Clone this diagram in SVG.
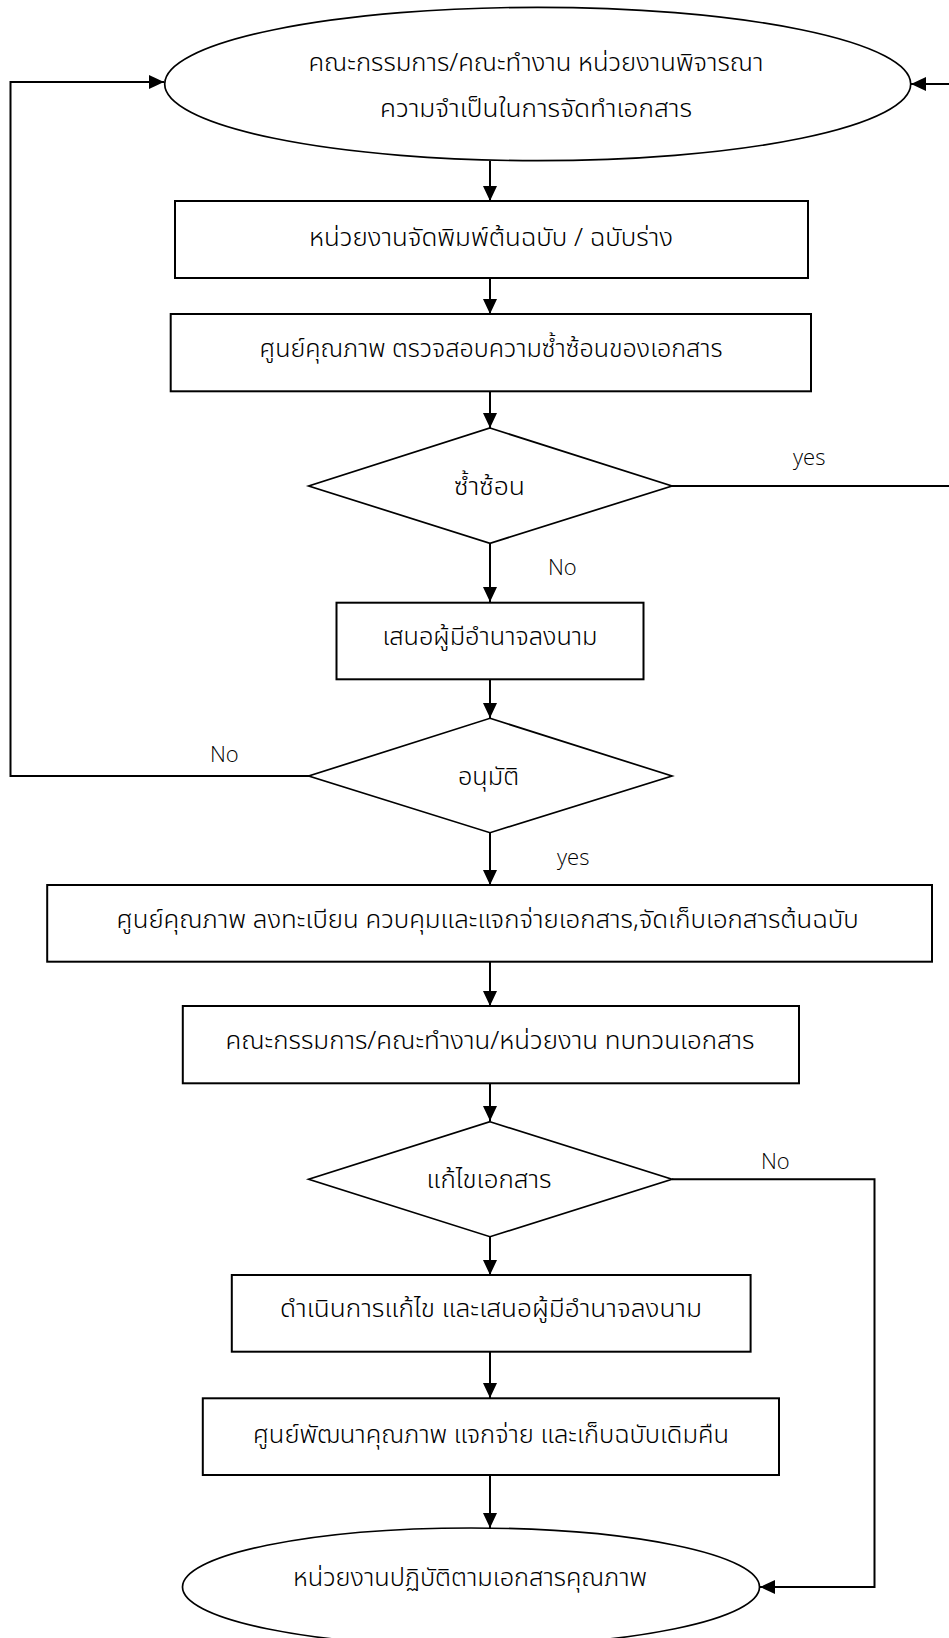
<svg xmlns="http://www.w3.org/2000/svg" width="949" height="1638" viewBox="0 0 949 1638">
<style>
.shape{fill:#fff;stroke:#000;stroke-width:2}
.dia{fill:#fff;stroke:#000;stroke-width:1.7}
.conn{fill:none;stroke:#000;stroke-width:2}
.th{font-family:"Noto Sans Thai","Noto Sans Thai Looped","Leelawadee UI",Tahoma,"Noto Sans","DejaVu Sans",sans-serif;font-size:25px;font-weight:300;fill:#000}
.lbl{font-family:"Open Sans","Liberation Sans",sans-serif;font-weight:300;font-size:22px;fill:#000}
</style>
<defs>
<marker id="arr" markerUnits="userSpaceOnUse" markerWidth="16" markerHeight="16" refX="15" refY="7" orient="auto">
<path d="M0,0 L15,7 L0,14 z" fill="#000"/>
</marker>
</defs>
<rect width="949" height="1638" fill="#fff"/>
<g id="connectors">
<line class="conn" x1="490" y1="161" x2="490" y2="201" marker-end="url(#arr)"/>
<line class="conn" x1="490" y1="278" x2="490" y2="314" marker-end="url(#arr)"/>
<line class="conn" x1="490" y1="391" x2="490" y2="428" marker-end="url(#arr)"/>
<line class="conn" x1="490" y1="543" x2="490" y2="602" marker-end="url(#arr)"/>
<line class="conn" x1="490" y1="679" x2="490" y2="718" marker-end="url(#arr)"/>
<line class="conn" x1="490" y1="833" x2="490" y2="885" marker-end="url(#arr)"/>
<line class="conn" x1="490" y1="962" x2="490" y2="1006" marker-end="url(#arr)"/>
<line class="conn" x1="490" y1="1083" x2="490" y2="1121" marker-end="url(#arr)"/>
<line class="conn" x1="490" y1="1237" x2="490" y2="1275" marker-end="url(#arr)"/>
<line class="conn" x1="490" y1="1352" x2="490" y2="1398" marker-end="url(#arr)"/>
<line class="conn" x1="490" y1="1475" x2="490" y2="1528" marker-end="url(#arr)"/>
<path class="conn" d="M672,486 H951 V84 H911" marker-end="url(#arr)"/>
<path class="conn" d="M309,776 H10.5 V82 H164" marker-end="url(#arr)"/>
<path class="conn" d="M672,1179.3 H874.5 V1587 H760" marker-end="url(#arr)"/>
<text class="lbl" x="793" y="465">yes</text>
<text class="lbl" x="548" y="575">No</text>
<text class="lbl" x="210" y="761.5">No</text>
<text class="lbl" x="557" y="865">yes</text>
<text class="lbl" x="761" y="1169">No</text>
</g>
<g id="start">
<ellipse class="dia" cx="537.7" cy="84" rx="373" ry="76.7"/>
<text class="th" x="536" y="70.5" text-anchor="middle" textLength="455" lengthAdjust="spacingAndGlyphs">คณะกรรมการ/คณะทำงาน หน่วยงานพิจารณา</text>
<text class="th" x="536" y="117" text-anchor="middle" textLength="312" lengthAdjust="spacingAndGlyphs">ความจำเป็นในการจัดทำเอกสาร</text>
</g>
<g id="draft">
<rect class="shape" x="175" y="201" width="633" height="77"/>
<text class="th" x="491" y="246" text-anchor="middle" textLength="364" lengthAdjust="spacingAndGlyphs">หน่วยงานจัดพิมพ์ต้นฉบับ / ฉบับร่าง</text>
</g>
<g id="check">
<rect class="shape" x="170.7" y="314" width="640.3" height="77.3"/>
<text class="th" x="491" y="357" text-anchor="middle" textLength="463" lengthAdjust="spacingAndGlyphs">ศูนย์คุณภาพ ตรวจสอบความซ้ำซ้อนของเอกสาร</text>
</g>
<g id="dup">
<polygon class="dia" points="490,428 672,486 490,543.3 308.7,486"/>
<text class="th" x="489.5" y="495" text-anchor="middle" textLength="71" lengthAdjust="spacingAndGlyphs">ซ้ำซ้อน</text>
</g>
<g id="propose">
<rect class="shape" x="336.5" y="602.7" width="307" height="76.6"/>
<text class="th" x="490" y="645" text-anchor="middle" textLength="215" lengthAdjust="spacingAndGlyphs">เสนอผู้มีอำนาจลงนาม</text>
</g>
<g id="approve">
<polygon class="dia" points="490,718.3 672,776 490,832.7 308.7,776"/>
<text class="th" x="488.5" y="785" text-anchor="middle" textLength="61" lengthAdjust="spacingAndGlyphs">อนุมัติ</text>
</g>
<g id="register">
<rect class="shape" x="47.2" y="885" width="884.8" height="76.7"/>
<text class="th" x="487.6" y="928" text-anchor="middle" textLength="742" lengthAdjust="spacingAndGlyphs">ศูนย์คุณภาพ ลงทะเบียน ควบคุมและแจกจ่ายเอกสาร,จัดเก็บเอกสารต้นฉบับ</text>
</g>
<g id="review">
<rect class="shape" x="182.8" y="1006" width="616.2" height="77.3"/>
<text class="th" x="490" y="1049" text-anchor="middle" textLength="529" lengthAdjust="spacingAndGlyphs">คณะกรรมการ/คณะทำงาน/หน่วยงาน ทบทวนเอกสาร</text>
</g>
<g id="edit">
<polygon class="dia" points="490,1121.7 672,1179.3 490,1236.7 308.7,1179.3"/>
<text class="th" x="489" y="1188" text-anchor="middle" textLength="125" lengthAdjust="spacingAndGlyphs">แก้ไขเอกสาร</text>
</g>
<g id="revise">
<rect class="shape" x="231.8" y="1275" width="518.8" height="76.7"/>
<text class="th" x="491" y="1317" text-anchor="middle" textLength="422" lengthAdjust="spacingAndGlyphs">ดำเนินการแก้ไข และเสนอผู้มีอำนาจลงนาม</text>
</g>
<g id="distribute">
<rect class="shape" x="202.8" y="1398.3" width="576.2" height="76.7"/>
<text class="th" x="491" y="1443" text-anchor="middle" textLength="476" lengthAdjust="spacingAndGlyphs">ศูนย์พัฒนาคุณภาพ แจกจ่าย และเก็บฉบับเดิมคืน</text>
</g>
<g id="end">
<ellipse class="dia" cx="471" cy="1587" rx="288.5" ry="59"/>
<text class="th" x="470" y="1586" text-anchor="middle" textLength="354" lengthAdjust="spacingAndGlyphs">หน่วยงานปฏิบัติตามเอกสารคุณภาพ</text>
</g>
</svg>
